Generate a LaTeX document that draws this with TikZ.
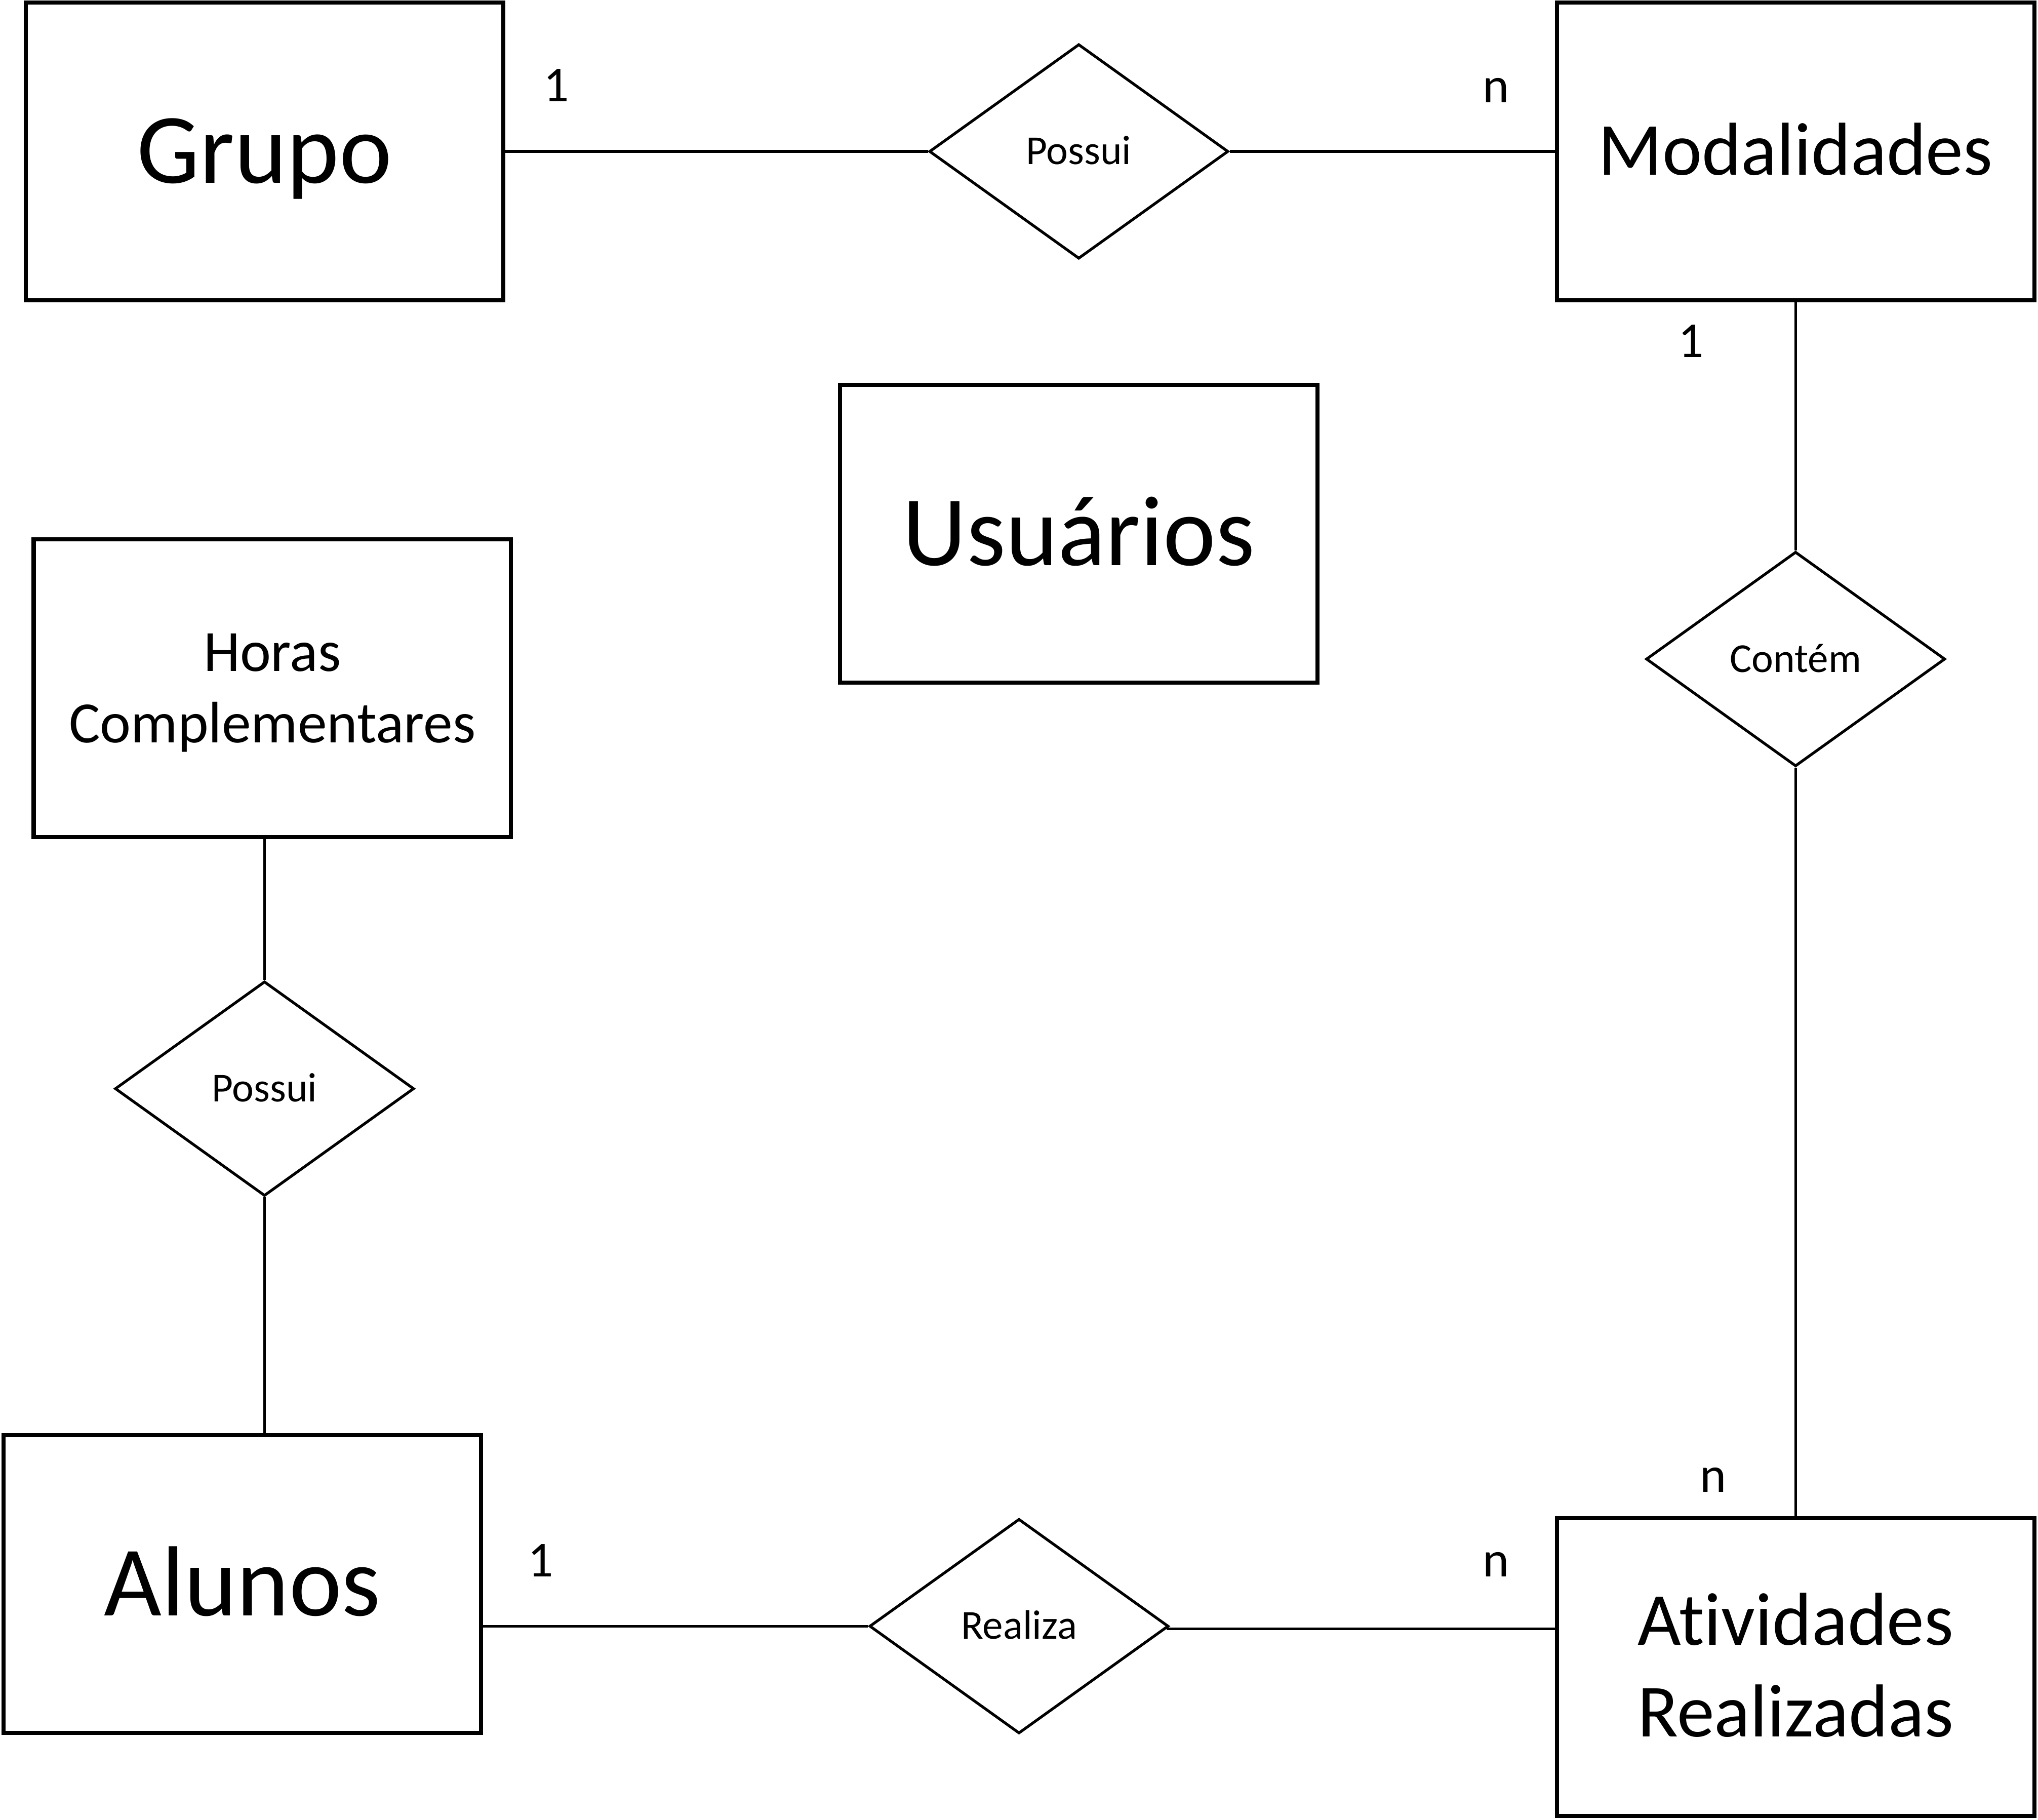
\documentclass[tikz,border=0pt]{standalone}
\usepackage{fontspec}
\setmainfont{Carlito}[Ligatures=CommonOff]
\usetikzlibrary{shapes.geometric}
\tikzset{
  entidade/.style={draw, line width=0.9pt, minimum width=3.67cm, minimum height=2.29cm,
    inner sep=0pt, align=center, text depth=0pt},
  grande/.style={font=\fontsize{21.8}{26.6}\selectfont, text height=13.8pt},
  media/.style={font=\fontsize{16.4}{20}\selectfont, text height=10.4pt},
  pequena/.style={font=\fontsize{12.8}{15.6}\selectfont, text height=8.1pt},
  relacao/.style={draw, diamond, line width=0.6pt, minimum width=2.3cm, minimum height=1.65cm,
    inner sep=0pt, font=\fontsize{9}{11}\selectfont, text height=5.7pt, text depth=0pt},
  card/.style={anchor=base, inner sep=0pt, font=\fontsize{11}{13.4}\selectfont},
  ligacao/.style={line width=0.6pt}
}
\begin{document}
\begin{tikzpicture}[x=0.01cm, y=-0.01cm]
  \useasboundingbox (0,0) rectangle (1568,1400);
  \node[entidade, grande] (grupo) at (203.5,116.5) {Grupo};
  \node[entidade, media] (modal) at (1381.5,116.5) {Modalidades};
  \node[entidade, grande] (usuarios) at (830,410.5) {Usuários};
  \node[entidade, pequena, text height=23.7pt] (horas) at (209.5,529.5) {Horas\\Complementares};
  \node[entidade, grande] (alunos) at (186.5,1218.5) {Alunos};
  \node[entidade, media, text height=30.4pt] (ativ) at (1381.5,1282.5) {Atividades\\Realizadas};
  \node[relacao] (possui1) at (830,116.5) {Possui};
  \node[relacao] (contem) at (1381.5,507) {Contém};
  \node[relacao] (possui2) at (203.5,837.5) {Possui};
  \node[relacao] (realiza) at (784,1251) {Realiza};
  \node[card] (c1) at (428,78) {1};
  \node[card] (c2) at (1151,79) {n};
  \node[card] (c3) at (1301,275) {1};
  \node[card] (c4) at (1318,1148) {n};
  \node[card] (c5) at (416,1213) {1};
  \node[card] (c6) at (1151,1213) {n};
  \begin{scope}[ligacao]
    \draw (grupo.east) to (possui1.west);
    \draw (possui1.east) to (modal.west);
    \draw (modal.south) to (contem.north);
    \draw (contem.south) to (ativ.north);
    \draw (horas.south -| possui2.north) to (possui2.north);
    \draw (possui2.south) to (possui2.south |- alunos.north);
    \draw (realiza.west -| alunos.east) to (realiza.west);
    \draw (realiza.-1.8) to (realiza.-1.8 -| ativ.west);
  \end{scope}
\end{tikzpicture}
\end{document}
